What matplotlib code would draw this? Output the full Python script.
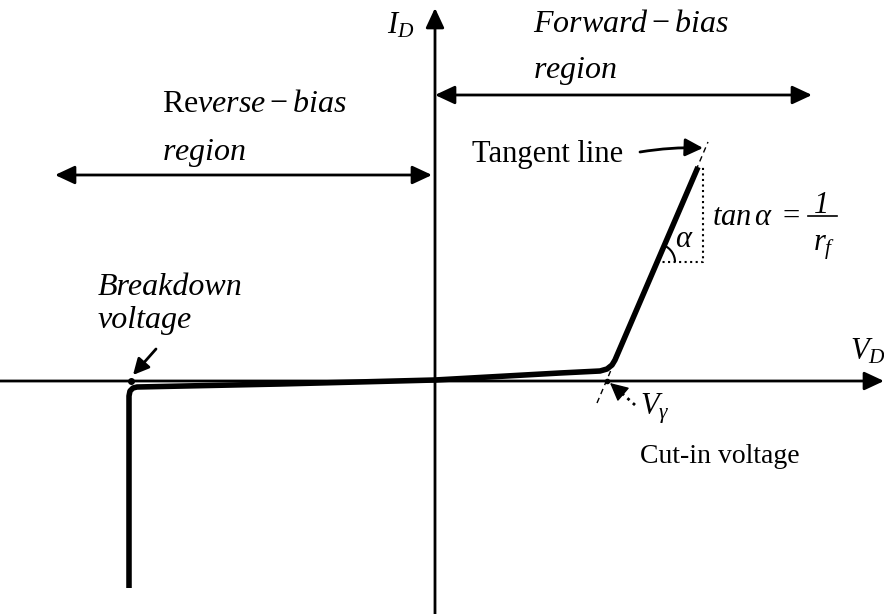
import matplotlib
matplotlib.use('Agg')
import matplotlib.pyplot as plt
from matplotlib.patches import FancyArrowPatch, Arc

plt.rcParams['font.family'] = ['Liberation Serif', 'DejaVu Serif']
plt.rcParams['mathtext.fontset'] = 'custom'
plt.rcParams['mathtext.rm'] = 'Liberation Serif'
plt.rcParams['mathtext.it'] = 'Liberation Serif:italic'

# diode characteristic (V_D, I_D), origin where the two axes cross
curve_v = [-306, -306, -305, -302, -298, -155, 0, 125, 165, 172, 177, 180, 263]
curve_i = [-207, -15, -10, -7, -6, -3, 1, 8, 10, 12, 16, 21, 214]

# tangent to the forward branch
tangent_v = [162, 273]
tangent_i = [-22, 239]

# slope triangle under the tangent
tri_v = [222, 268, 268]
tri_i = [119, 119, 214]

breakdown_v = -304
cutin_v = 172
alpha_deg = 66.7

fig = plt.figure(figsize=(8.84, 6.14), dpi=100)
ax = fig.add_axes([0, 0, 1, 1])
ax.set_xlim(-435, 449)
ax.set_ylim(-233, 381)
ax.axis('off')


def arrow(p0, p1, style='-|>', lw=2.0, scale=20, **kw):
    a = FancyArrowPatch(p0, p1, arrowstyle=style, mutation_scale=scale,
                        lw=lw, color='k', shrinkA=0, shrinkB=0, **kw)
    ax.add_patch(a)


head = '-|>,head_length=0.6,head_width=0.28'

# axes
arrow((-435, 0), (449, 0), style=head)
arrow((0, -233), (0, 373), style=head)

# curve and tangent
ax.plot(curve_v, curve_i, color='k', lw=4, solid_joinstyle='round',
        solid_capstyle='butt')
ax.plot(tangent_v, tangent_i, color='k', lw=1, dashes=(4, 3))
ax.plot(tri_v, tri_i, color='k', lw=1.5, linestyle=':')
ax.add_patch(Arc((tri_v[0], tri_i[0]), 36, 36, theta1=0, theta2=alpha_deg,
                 color='k', lw=1.5))

# region arrows
arrow((0, 286), (377, 286), style='<|-|>,head_length=0.6,head_width=0.28')
arrow((-380, 206), (-3, 206), style='<|-|>,head_length=0.6,head_width=0.28')

fs = 23
ax.text(-48, 347, r'$I_D$', fontsize=22)
ax.text(415, 21, r'$V_D$', fontsize=22)
ax.text(98, 349, r'$Forward-bias$', fontsize=fs)
ax.text(98, 303, r'$region$', fontsize=fs)
ax.text(-273, 269, r'$\mathrm{Re}verse-bias$', fontsize=fs)
ax.text(-273, 221, r'$region$', fontsize=fs)

# tangent line annotation
ax.text(37, 219, 'Tangent line', fontsize=22)
arrow((205, 229), (268, 233), lw=2, scale=18,
      style='-|>,head_length=0.6,head_width=0.3',
      connectionstyle='arc3,rad=-0.05')
ax.text(240, 134, r'$\alpha$', fontsize=22)
ax.text(277, 156, r'$tan\,\alpha$', fontsize=22)
ax.text(347, 156, '=', fontsize=22)
ax.text(387, 168, '1', fontsize=22, fontstyle='italic', ha='center')
ax.plot([373, 402], [165, 165], color='k', lw=1.2)
ax.text(378, 131, r'$r_f$', fontsize=22)

# breakdown voltage
ax.plot([breakdown_v], [0], 'o', color='k', ms=4)
ax.text(-337, 86, 'Breakdown', fontsize=fs, fontstyle='italic')
ax.text(-337, 53, 'voltage', fontsize=fs, fontstyle='italic')
arrow((-279, 32), (-302, 6), lw=2, scale=16,
      style='-|>,head_length=0.6,head_width=0.3')

# cut-in voltage: dotted pointer with a solid head
ax.plot([cutin_v], [0], 'o', color='k', ms=3)
ax.plot([200, 181], [-24, -7], color='k', lw=2, linestyle=':')
arrow((182, -8), (175, -2), lw=1, scale=16,
      style='-|>,head_length=0.7,head_width=0.35')
ax.text(205, -33, r'$V_\gamma$', fontsize=22)
ax.text(205, -82, 'Cut-in voltage', fontsize=20)

fig.savefig('out.png', dpi=100)
